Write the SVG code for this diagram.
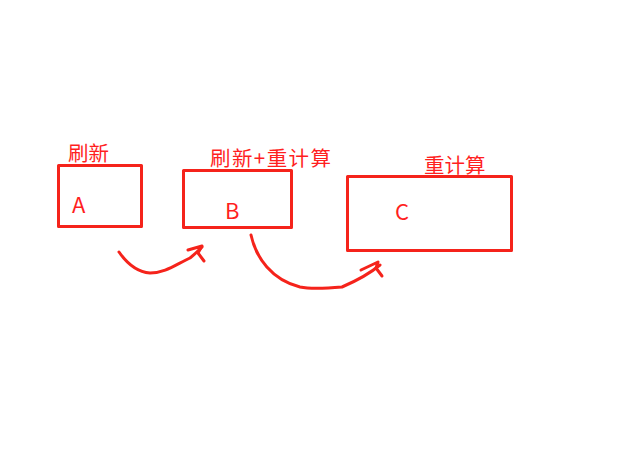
<svg xmlns="http://www.w3.org/2000/svg" width="625" height="468" viewBox="0 0 625 468">
<style>
.box{fill:none;stroke:#f5231b;stroke-width:3;stroke-linejoin:round}
.lbl{fill:#ff1f1f;font-family:"Microsoft YaHei","Noto Sans CJK SC",sans-serif;font-size:20.5px}
.ltr{fill:#ff1f1f;font-family:"Microsoft YaHei","Noto Sans CJK SC",sans-serif;font-size:22px}
.stroke{fill:none;stroke:#f5231b;stroke-width:3;stroke-linecap:round;stroke-linejoin:round}
</style>
<rect width="625" height="468" fill="#ffffff"/>
<g id="A">
<rect class="box" x="58.5" y="165.5" width="83" height="61"/>
<text class="lbl" x="68" y="161">刷新</text>
<text class="ltr" x="72" y="213">A</text>
</g>
<g id="B">
<rect class="box" x="183.5" y="170.5" width="108" height="57"/>
<text class="lbl" x="210" y="166" textLength="121" lengthAdjust="spacing">刷新+重计算</text>
<text class="ltr" x="225" y="219">B</text>
</g>
<g id="C">
<rect class="box" x="347.5" y="176.5" width="164" height="74"/>
<text class="lbl" x="424" y="173">重计算</text>
<text class="ltr" x="395" y="220">C</text>
</g>
<g id="connectors">
<path class="stroke" d="M119,252 C126,262 136,272 150,273 C165,273 175,265 190,258 C195,254 199,250 202,247"/>
<path class="stroke" d="M188,250 L202,246 L198,253 L204,261"/>
<path class="stroke" d="M251,235 C256,258 272,280 300,287 C310,289 330,288 342,287 C356,281 368,275 380,265"/>
<path class="stroke" d="M361,270 L378,262 L376,268 L382,276"/>
</g>
</svg>
